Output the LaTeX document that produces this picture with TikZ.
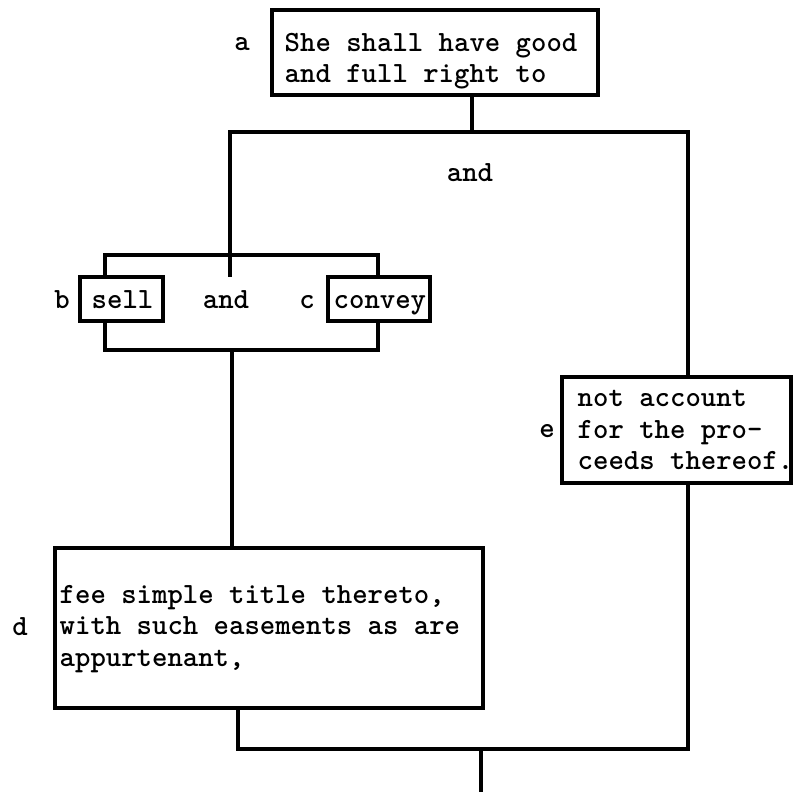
\documentclass[tikz,border=0pt]{standalone}
\usepackage{fontspec}
\begin{document}
\begin{tikzpicture}[x=0.75pt,y=-0.75pt,
  line width=2.6pt, line cap=rect,
  boxsty/.style={draw, line width=2.6pt, inner sep=0pt},
  txt/.style={inner sep=0pt, align=left, anchor=west,
    font=\ttfamily\bfseries\fontsize{22}{23.6}\selectfont},
  lbl/.style={inner sep=0pt, anchor=base,
    font=\ttfamily\bfseries\fontsize{22}{23.6}\selectfont}]
\useasboundingbox (0,0) rectangle (794,792);

% boxes
\node[boxsty, minimum width=244.5pt, minimum height=63.75pt] (a) at (435,52.5) {};
\node[txt] (atext) at (283,61) {She shall have good\\and full right to};
\node[lbl] (alabel) at (242,51) {a};

\node[boxsty, minimum width=62.25pt, minimum height=33pt] (sell) at (121.5,299) {};
\node[lbl, anchor=base west] (selltext) at (90,309) {sell};
\node[lbl] (blabel) at (62,309) {b};

\node[boxsty, minimum width=76.5pt, minimum height=33pt] (convey) at (379,299) {};
\node[lbl, anchor=base west] (conveytext) at (332,309) {convey};
\node[lbl] (clabel) at (307,309) {c};

\node[lbl] (and2) at (226,309) {and};
\node[lbl] (and1) at (470,181) {and};

\node[boxsty, minimum width=321pt, minimum height=120pt] (d) at (269,628) {};
\node[txt] (dtext) at (58,629) {fee simple title thereto,\\with such easements as are\\appurtenant,};
\node[lbl] (dlabel) at (20,635) {d};

\node[boxsty, minimum width=171.75pt, minimum height=79.5pt] (e) at (676.5,430) {};
\node[txt] (etext) at (576,430) {not account\\for the pro-\\ceeds thereof.};
\node[lbl] (elabel) at (547,437) {e};

% junction coordinates
\coordinate (top) at (472,132);
\coordinate (lv) at (230,275);
\coordinate (rt) at (688,132);
\coordinate (bl) at (105,255);
\coordinate (br) at (378,255);
\coordinate (bbl) at (105,350);
\coordinate (bbr) at (378,350);
\coordinate (mid) at (232,350);
\coordinate (bl2) at (238,749);
\coordinate (br2) at (688,749);
\coordinate (out) at (481,749);
\coordinate (outend) at (481,795);

% connectors
\draw (a.south -| top) -- (top);
\draw (lv) |- (rt) -- (rt |- e.north);
\draw (sell.north -| bl) -- (bl) -- (br) -- (convey.north -| br);
\draw (sell.south -| bbl) -- (bbl) -- (bbr) -- (convey.south -| bbr);
\draw (mid) -- (d.north -| mid);
\draw (d.south -| bl2) -- (bl2) -- (br2) -- (e.south -| br2);
\draw (out) -- (outend);
\end{tikzpicture}
\end{document}
